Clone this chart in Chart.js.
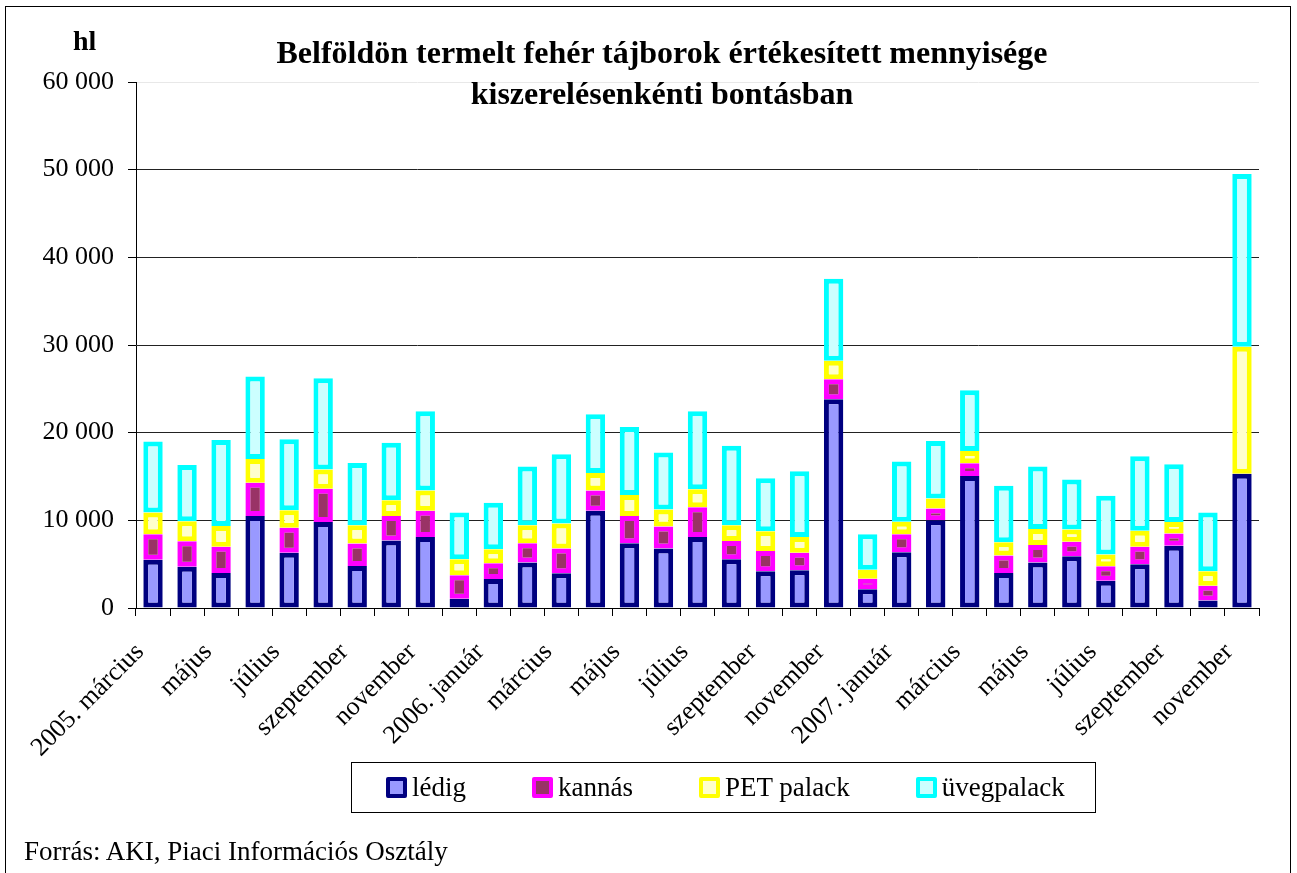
<!DOCTYPE html>
<html lang="hu">
<head>
  <meta charset="UTF-8" />
  <title>Belföldön termelt fehér tájborok</title>
  <script src="https://cdn.jsdelivr.net/npm/chart.js"></script>
  <style>
    body {
      margin: 0;
      padding: 0;
      background: #fff;
      font-family: 'Liberation Serif', 'Times New Roman', serif;
      color: #000;
    }

    #wrap {
      position: relative;
      width: 1297px;
      height: 873px;
      overflow: hidden;
    }

    #frame {
      position: absolute;
      left: 5px;
      top: 6px;
      width: 1286px;
      height: 880px;
      border: 1px solid #000;
      box-sizing: border-box;
    }

    #chart {
      position: absolute;
      left: 0;
      top: 0;
    }

    .title {
      position: absolute;
      left: 262px;
      width: 800px;
      top: 32px;
      text-align: center;
      font-weight: bold;
      font-size: 32px;
      line-height: 41px;
    }

    .unit {
      position: absolute;
      left: 73px;
      top: 27px;
      font-weight: bold;
      font-size: 28px;
      line-height: 1;
    }

    .source {
      position: absolute;
      left: 24px;
      top: 838px;
      font-size: 27px;
      line-height: 1;
    }

    #legend {
      position: absolute;
      left: 351px;
      top: 762px;
      width: 745px;
      height: 51px;
      border: 1px solid #000;
      box-sizing: border-box;
      display: flex;
      align-items: center;
      gap: 66px;
      padding-left: 34px;
      font-size: 27px;
    }

    .item {
      display: flex;
      align-items: center;
    }

    .mark {
      width: 21px;
      height: 21px;
      border: 4px solid;
      border-radius: 2px;
      box-sizing: border-box;
      margin-right: 5px;
    }
  </style>
</head>
<body>
  <div id="wrap">
    <div id="frame"></div>
    <canvas id="chart" width="1297" height="873"></canvas>
    <div class="unit">hl</div>
    <div class="title">Belföldön termelt fehér tájborok értékesített mennyisége<br>kiszerelésenkénti bontásban</div>
    <div id="legend"></div>
    <div class="source">Forrás: AKI, Piaci Információs Osztály</div>
  </div>

  <script>
    // hónapok 2005. március - 2007. november
    const months = [
      '2005. március', 'április', 'május', 'június', 'július', 'augusztus', 'szeptember', 'október', 'november', 'december',
      '2006. január', 'február', 'március', 'április', 'május', 'június', 'július', 'augusztus', 'szeptember', 'október', 'november', 'december',
      '2007. január', 'február', 'március', 'április', 'május', 'június', 'július', 'augusztus', 'szeptember', 'október', 'november'
    ];

    // hl
    const ledig = [5500, 4700, 4000, 10500, 6300, 9800, 4800, 7700, 8100, 1050,
      3300, 5200, 3950, 11100, 7400, 6800, 8100, 5550, 4200, 4300, 23800, 2150,
      6350, 10000, 15050, 4000, 5200, 5900, 3100, 5000, 7100, 850, 15300];
    const kannas = [2900, 2900, 3000, 3800, 2850, 3800, 2550, 2800, 3000, 2700,
      1800, 2200, 2850, 2300, 3100, 2500, 3400, 2100, 2300, 2000, 2300, 1200,
      2050, 1350, 1450, 2000, 2000, 1650, 1650, 2000, 1400, 1700, 0];
    const pet = [2500, 2300, 2350, 2700, 2000, 2200, 2100, 1800, 2300, 1800,
      1600, 2050, 2850, 2000, 2400, 1950, 2050, 1800, 2250, 1800, 2100, 1000,
      1450, 1150, 1400, 1500, 1800, 1400, 1350, 1800, 1300, 1650, 14500];
    const uveg = [8100, 6400, 9800, 9400, 8100, 10400, 7100, 6550, 9050, 5350,
      5300, 6700, 7900, 6700, 7750, 6500, 8900, 9050, 6050, 7500, 9350, 4050,
      6850, 6550, 6950, 6450, 7150, 5700, 6700, 8500, 6600, 6700, 19700];

    const yTicks = [0, 10000, 20000, 30000, 40000, 50000, 60000];

    const series = [
      { label: 'lédig', data: ledig, border: '#000080', fill: '#9999FF' },
      { label: 'kannás', data: kannas, border: '#FF00FF', fill: '#993366' },
      { label: 'PET palack', data: pet, border: '#FFFF00', fill: '#FFFFCC' },
      { label: 'üvegpalack', data: uveg, border: '#00FFFF', fill: '#CCFFFF' }
    ];

    const font = 'Liberation Serif';

    function fmt(v) {
      return String(v).replace(/\B(?=(\d{3})+(?!\d))/g, ' ');
    }

    // jelmagyarázat
    const legend = document.getElementById('legend');
    series.forEach(s => {
      const item = document.createElement('div');
      item.className = 'item';
      const mark = document.createElement('div');
      mark.className = 'mark';
      mark.style.borderColor = s.border;
      mark.style.background = s.fill;
      const txt = document.createElement('span');
      txt.textContent = s.label;
      item.appendChild(mark);
      item.appendChild(txt);
      legend.appendChild(item);
    });

    new Chart(document.getElementById('chart'), {
      type: 'bar',
      data: {
        labels: months,
        datasets: series.map(s => ({
          label: s.label,
          data: s.data,
          backgroundColor: s.fill,
          borderColor: s.border,
          borderWidth: 5,
          borderSkipped: false,
          barPercentage: 0.57,
          categoryPercentage: 1
        }))
      },
      options: {
        responsive: false,
        animation: false,
        layout: { padding: { top: 82, right: 38, left: 0, bottom: 0 } },
        plugins: {
          legend: { display: false },
          title: { display: false },
          tooltip: { enabled: false }
        },
        scales: {
          x: {
            stacked: true,
            offset: true,
            grid: {
              offset: true,
              drawOnChartArea: false,
              tickLength: 8,
              color: '#000'
            },
            border: { color: '#000', width: 1 },
            ticks: {
              autoSkip: false,
              minRotation: 45,
              maxRotation: 45,
              padding: 21,
              labelOffset: -13,
              color: '#000',
              font: { family: font, size: 26 },
              callback: (v, i) => (i % 2 === 0 ? months[i] : '')
            },
            afterFit: (scale) => {
              scale.height = 265;
              scale.paddingLeft = 0;
              scale.paddingRight = 0;
            }
          },
          y: {
            stacked: true,
            min: 0,
            max: 60000,
            afterBuildTicks: (scale) => {
              scale.ticks = yTicks.map(v => ({ value: v }));
            },
            grid: {
              color: (ctx) => (ctx.tick && ctx.tick.value === 60000 ? '#e8e8e8' : '#222'),
              tickColor: '#000',
              tickLength: 8
            },
            border: { color: '#000', width: 1 },
            ticks: {
              padding: 14,
              color: '#000',
              font: { family: font, size: 26 },
              callback: (v) => fmt(v)
            },
            afterFit: (scale) => {
              scale.width = 136;
              scale.paddingTop = 0;
              scale.paddingBottom = 0;
            }
          }
        }
      }
    });
  </script>
</body>
</html>
